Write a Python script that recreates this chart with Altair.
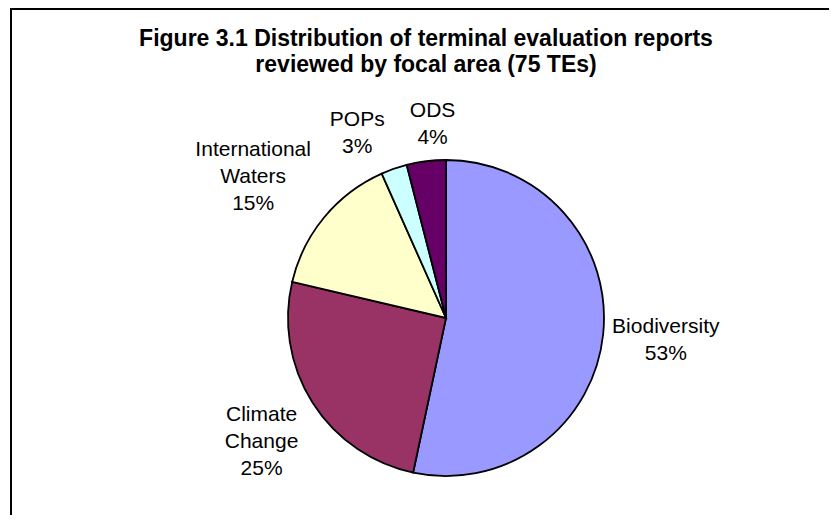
import altair as alt
import pandas as pd

# ---- data ----
categories = ["Biodiversity", "Climate Change", "International Waters", "POPs", "ODS"]
counts = [40, 19, 11, 2, 3]          # 75 TEs in total
percent_labels = ["53%", "25%", "15%", "3%", "4%"]
label_names = ["Biodiversity", "Climate\nChange", "International\nWaters", "POPs", "ODS"]
colors = ["#9999FF", "#993366", "#FFFFCC", "#CCFFFF", "#660066"]
title_lines = ["Figure 3.1 Distribution of terminal evaluation reports",
               "reviewed by focal area (75 TEs)"]

df = pd.DataFrame({
    "cat": categories,
    "n": counts,
    "order": list(range(len(categories))),
    "label": [f"{a}\n{b}" for a, b in zip(label_names, percent_labels)],
})

# label layout: (radius from pie centre, dx, dy) -- styling only
label_layout = {
    "Biodiversity": (221, 0, -14),
    "Climate Change": (222, 3, -22),
    "International Waters": (236, -11, -18),
    "POPs": (200, -23, -9),
    "ODS": (195, 11, -14),
}

W, H = 821, 507
CX, CY, R = 438, 310, 158
FONT = "Liberation Sans"

base = alt.Chart(df).encode(
    theta=alt.Theta("n:Q", stack=True),
    order=alt.Order("order:Q"),
)

pie = base.mark_arc(outerRadius=R, stroke="black", strokeWidth=1.8).encode(
    color=alt.Color("cat:N", scale=alt.Scale(domain=categories, range=colors), legend=None),
    x=alt.value(CX), y=alt.value(CY),
)

label_layers = []
for cat, (r, dx, dy) in label_layout.items():
    label_layers.append(
        base.transform_calculate(
            lab=f"datum.cat === '{cat}' ? datum.label : ''"
        ).mark_text(radius=r, dx=dx, dy=dy, lineBreak="\n", font=FONT, fontSize=21,
                    align="center", baseline="middle", color="black", lineHeight=27).encode(
            text="lab:N", x=alt.value(CX), y=alt.value(CY),
        )
    )

title_df = pd.DataFrame({"t": ["\n".join(title_lines)]})
title = alt.Chart(title_df).mark_text(lineBreak="\n", font=FONT, fontSize=23, fontWeight="bold",
                                      align="center", baseline="alphabetic", lineHeight=26,
                                      color="black").encode(
    text="t:N", x=alt.value(418), y=alt.value(38),
)

frame_df = pd.DataFrame({"a": [0]})
frame = alt.Chart(frame_df).mark_rect(filled=False, stroke="black", strokeWidth=2).encode(
    x=alt.value(3), x2=alt.value(W + 20), y=alt.value(1), y2=alt.value(H + 20),
)

chart = alt.layer(frame, pie, *label_layers, title).properties(
    width=W, height=H, autosize=alt.AutoSizeParams(type="none"), padding=0,
).configure_view(stroke=None)

chart.save("out.html", embed_options={"renderer": "svg", "actions": False})
